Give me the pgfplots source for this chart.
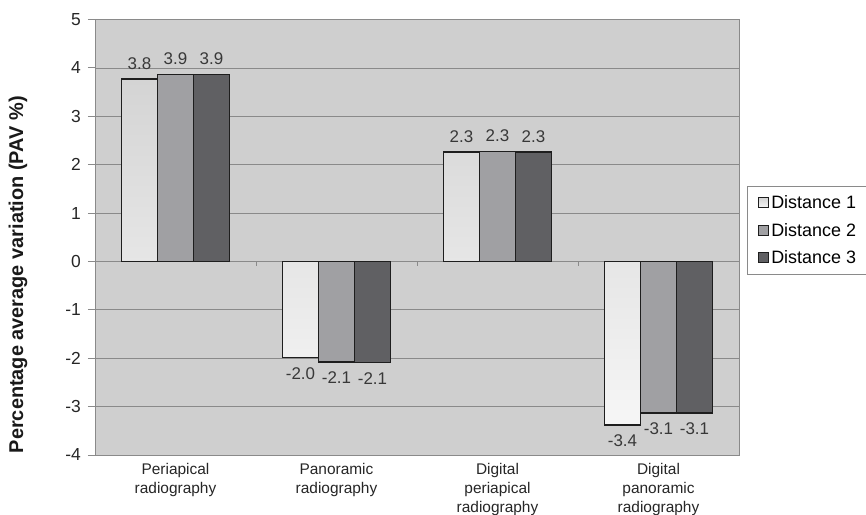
\documentclass[border=0pt]{standalone}
\usepackage{pgfplots}
\pgfplotsset{compat=1.18}
\usepackage{fontspec}
\setmainfont{Liberation Sans}
\definecolor{bgc}{HTML}{CFCFCF}
\definecolor{gridc}{HTML}{8A8A8A}
\definecolor{framec}{HTML}{8A8A8A}
\definecolor{edgec}{HTML}{1E1E1E}
\definecolor{bOneTop}{HTML}{D4D4D4}
\definecolor{bOneBot}{HTML}{F6F6F6}
\definecolor{bTwo}{HTML}{A0A0A3}
\definecolor{bThree}{HTML}{606063}
\definecolor{labc}{HTML}{383838}

\pgfplotstableread{
x y
1 3.77
2 -1.99
3 2.26
4 -3.38
}\dOne
\pgfplotstableread{
x y
1 3.86
2 -2.08
3 2.27
4 -3.13
}\dTwo
\pgfplotstableread{
x y
1 3.87
2 -2.09
3 2.26
4 -3.13
}\dThree

\begin{document}
\begin{tikzpicture}
\begin{axis}[
  at={(0,0)}, anchor=south west,
  scale only axis,
  width=644bp, height=435.5bp,
  xmin=0.5, xmax=4.5, ymin=-4, ymax=5,
  ybar=0pt, bar width=36bp,
  axis background/.style={fill=bgc},
  axis line style={draw=framec, line width=0.8bp},
  ymajorgrids, grid style={draw=gridc, line width=0.7bp},
  ytick={-4,-3,-2,-1,0,1,2,3,4,5},
  yticklabels={-4,-3,-2,-1,0,1,2,3,4,5},
  ytick pos=left, tick align=outside,
  major tick length=7bp,
  major tick style={draw=framec, line width=0.8bp},
  yticklabel style={font=\fontsize{17.5}{21}\selectfont, text=black!85, inner sep=0pt, xshift=-7bp},
  xtick={1,2,3,4},
  xtick style={draw=none},
  xticklabels={Periapical\\radiography, Panoramic\\radiography, Digital\\periapical\\radiography, Digital\\panoramic\\radiography},
  xticklabel style={font=\fontsize{15.5}{18.7}\selectfont, text=black!85, align=center, anchor=north, inner sep=0pt, yshift=-1.5bp},
  ylabel={\textbf{Percentage average variation (PAV \%)}},
  ylabel style={at={([xshift=-77bp]rel axis cs:0,0.414)}, anchor=center, font=\fontsize{20}{22}\selectfont, text=black!90},
  point meta=y,
  nodes near coords={\pgfmathprintnumber[fixed, fixed zerofill, precision=1, assume math mode=true]{\pgfplotspointmeta}},
  nodes near coords align={vertical},
  nodes near coords style={font=\fontsize{17}{19}\selectfont, text=labc, inner xsep=0pt, inner ysep=9bp},
  legend style={at={(rel axis cs:1.0,0.516)}, anchor=west, xshift=8bp, draw=framec, fill=white, line width=0.8bp,
    font=\fontsize{18}{21}\selectfont, row sep=9bp, inner xsep=11bp, inner ysep=7bp},
  legend cell align=left,
  legend image code/.code={\draw[#1, line width=0.9bp] (0bp,-5bp) rectangle (10bp,5bp);},
]
\addplot[draw=edgec, line width=1.3bp, top color=bOneTop, bottom color=bOneBot] table[x=x, y=y] {\dOne};
\addplot[draw=edgec, line width=1.3bp, fill=bTwo] table[x=x, y=y] {\dTwo};
\addplot[draw=edgec, line width=1.3bp, fill=bThree] table[x=x, y=y] {\dThree};
\legend{Distance 1, Distance 2, Distance 3}
\draw[framec, line width=0.8bp] (axis cs:1.5,0) -- ([yshift=-5bp]axis cs:1.5,0);
\draw[framec, line width=0.8bp] (axis cs:2.5,0) -- ([yshift=-5bp]axis cs:2.5,0);
\draw[framec, line width=0.8bp] (axis cs:3.5,0) -- ([yshift=-5bp]axis cs:3.5,0);
\end{axis}
\pgfresetboundingbox
\useasboundingbox (-95bp,-60bp) rectangle (771bp,455bp);
\end{tikzpicture}
\end{document}
